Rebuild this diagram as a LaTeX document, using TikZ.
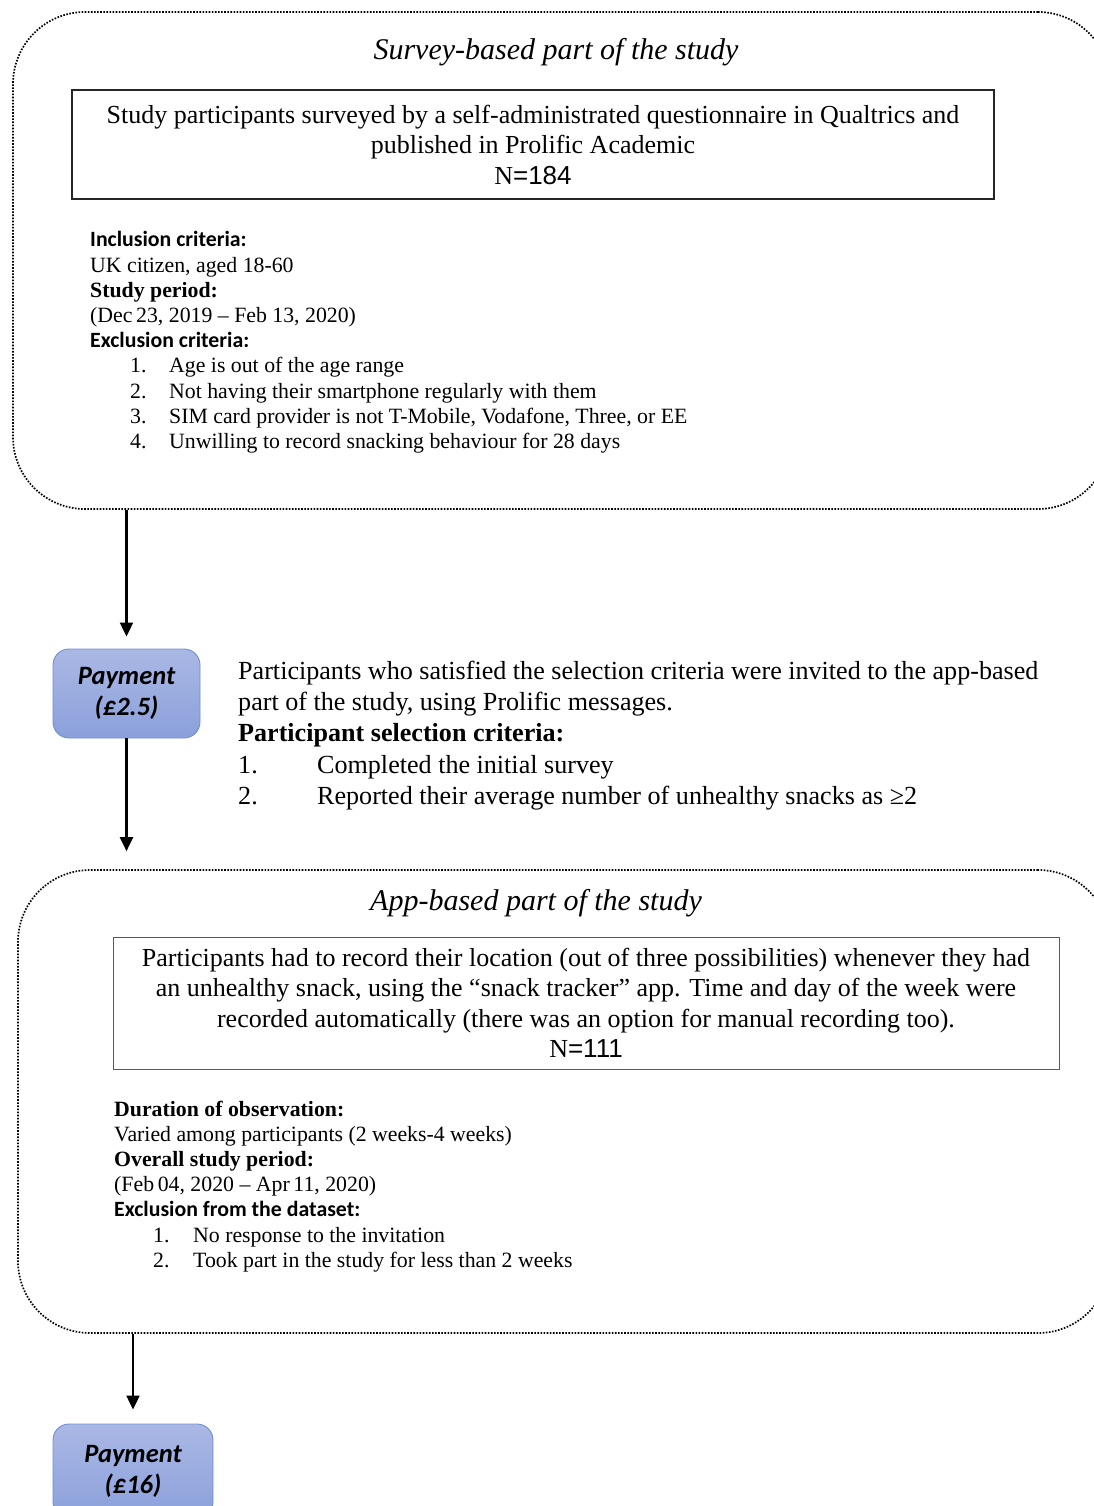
\documentclass[tikz,border=0pt]{standalone}
\usepackage{fontspec}
\setmainfont{Liberation Serif}
\newfontfamily\calib{Carlito}
\newfontfamily\arialf{Liberation Sans}
\usepackage{xcolor}
\usepackage{tikz}
\usetikzlibrary{arrows.meta,positioning}

\definecolor{payTop}{RGB}{170,184,228}
\definecolor{payBot}{RGB}{139,160,219}
\definecolor{payEdge}{RGB}{112,142,212}

\begin{document}
\begin{tikzpicture}[
  x=1pt, y=-1pt,
  >={Triangle[length=14pt, width=13pt]},
  phase/.style={draw=black, line width=1.7pt, dash pattern=on 1.6pt off 1.5pt,
                rounded corners=72pt, inner sep=0pt},
  head/.style={font=\fontsize{30}{34}\selectfont\itshape, inner sep=0pt},
  mainbox/.style={draw=black!85, line width=1.8pt, align=center, inner sep=0pt,
                  font=\fontsize{26}{30.5}\selectfont},
  pay/.style={draw=payEdge, line width=0.9pt, rounded corners=16pt,
              top color=payTop, bottom color=payBot, align=center, inner sep=0pt,
              font=\calib\fontsize{26.5}{31}\selectfont\bfseries\itshape},
  crit/.style={align=left, anchor=north west, inner sep=0pt,
               font=\fontsize{21.8}{25.2}\selectfont},
  para/.style={align=left, anchor=north west, inner sep=0pt,
               font=\fontsize{26.1}{31.2}\selectfont},
  flow/.style={->, line width=2.1pt}
]
\useasboundingbox (0,0) rectangle (1094,1506);

% survey part
\node[phase, minimum width=1097, minimum height=497] (survey) at (561.5,260.5) {};
\node[head] (surveyhead) at (556,52) {Survey-based part of the study};
\node[mainbox, minimum width=922, minimum height=109] (surveybox) at (533,144.5)
  {Study participants surveyed by a self-administrated questionnaire in Qualtrics and\\
   published in Prolific Academic\\N{\arialf =184}};
\node[crit] (surveycrit) at (90,231.5)
  {{\calib\bfseries Inclusion criteria:}\\
   UK citizen, aged 18-60\\
   \textbf{Study period:}\\
   (Dec\,23, 2019 – Feb 13, 2020)\\
   {\calib\bfseries Exclusion criteria:}\\
   \hspace*{40pt}\makebox[39pt][l]{1.}Age is out of the age range\\
   \hspace*{40pt}\makebox[39pt][l]{2.}Not having their smartphone regularly with them\\
   \hspace*{40pt}\makebox[39pt][l]{3.}SIM card provider is not T-Mobile, Vodafone, Three, or EE\\
   \hspace*{40pt}\makebox[39pt][l]{4.}Unwilling to record snacking behaviour for 28 days};

% first payment and selection
\node[pay, minimum width=147, minimum height=89] (pay1) at (126.5,693.5) {Payment\\(£2.5)};
\node[para] (select) at (238,661)
  {Participants who satisfied the selection criteria were invited to the app-based\\
   part of the study, using Prolific messages.\\
   \textbf{Participant selection criteria:}\\
   \makebox[79pt][l]{1.}Completed the initial survey\\
   \makebox[79pt][l]{2.}Reported their average number of unhealthy snacks as ≥2};

% app part
\node[phase, minimum width=1092, minimum height=463] (app) at (564,1101.5) {};
\node[head] (apphead) at (536,903) {App-based part of the study};
\node[mainbox, draw=black!65, line width=1pt, minimum width=946, minimum height=132] (appbox) at (586,1003)
  {Participants had to record their location (out of three possibilities) whenever they had\\
   an unhealthy snack, using the “snack tracker” app. Time and day of the week were\\
   recorded automatically (there was an option for manual recording too).\\N{\arialf =111}};
\node[crit] (appcrit) at (114,1100.5)
  {\textbf{Duration of observation:}\\
   Varied among participants (2 weeks-4 weeks)\\
   \textbf{Overall study period:}\\
   (Feb\,04, 2020 – Apr\,11, 2020)\\
   {\calib\bfseries Exclusion from the dataset:}\\
   \hspace*{39pt}\makebox[40pt][l]{1.}No response to the invitation\\
   \hspace*{39pt}\makebox[40pt][l]{2.}Took part in the study for less than 2 weeks};

\node[pay, minimum width=160, minimum height=94] (pay2) at (133,1471) {Payment\\(£16)};

% arrows
\draw[flow] (survey.south -| pay1) -- ([yshift=12pt]pay1.north);
\draw[flow] (pay1.south) -- ([yshift=18pt]app.north -| pay1);
\draw[flow] (app.south -| pay2) -- ([yshift=14pt]pay2.north);
\end{tikzpicture}
\end{document}
